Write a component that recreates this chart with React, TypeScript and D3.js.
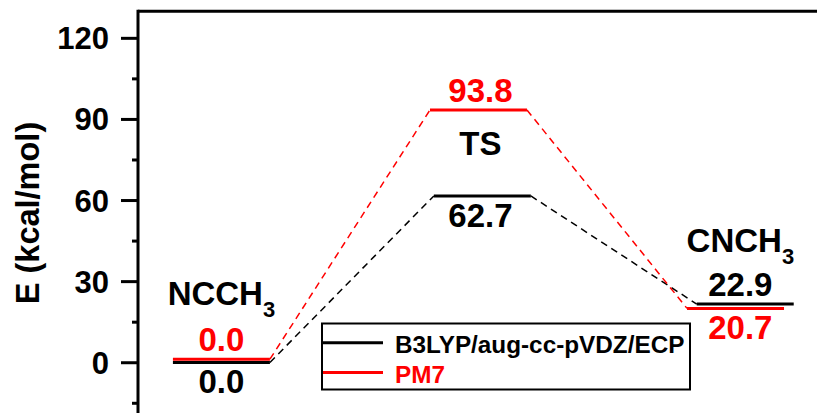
import React from 'react'
import * as d3 from 'd3'

// states along the reaction coordinate
const states = ['NCCH', 'TS', 'CNCH']
const stateSubs = ['3', '', '3']
// where the state names sit (energy units)
const stateLabelAt = [21.3, 76.8, 41]

// energies shown in labels (kcal/mol)
const b3lypLabels = ['0.0', '62.7', '22.9']
const pm7Labels = ['0.0', '93.8', '20.7']
// heights at which the level bars are drawn
const b3lypLevels = [0.1, 61.7, 21.7]
const pm7Levels = [1.3, 93.5, 20.1]
// left end of each level bar on the reaction coordinate (bars are 1 unit wide)
const b3lypStart = [0.36, 3.05, 5.76]
const pm7Start = [0.36, 3.01, 5.66]
// label placement: true = above the bar
const b3lypAbove = [false, false, true]
const pm7Above = [true, true, false]

const majorTicks = [0, 30, 60, 90, 120]
const minorTicks = [-15, 15, 45, 75, 105]

const legendNames = ['B3LYP/aug-cc-pVDZ/ECP', 'PM7']
const colors = ['#000000', '#ff0000']

const W = 817
const H = 413
const FONT = '"Liberation Sans", Arial, Helvetica, sans-serif'

const App: React.FC = () => {
  const x = d3.scaleLinear().domain([0, 7]).range([138, 817])
  const y = d3.scaleLinear().domain([-20, 130]).range([416.8, 11.3])

  const series = [
    { levels: b3lypLevels, start: b3lypStart, labels: b3lypLabels, above: b3lypAbove, color: colors[0] },
    { levels: pm7Levels, start: pm7Start, labels: pm7Labels, above: pm7Above, color: colors[1] },
  ]

  // centre of each state column
  const stateCenter = states.map((_, i) => x((b3lypStart[i] + pm7Start[i]) / 2 + 0.5))

  const line = d3.line<[number, number]>()
    .x(d => x(d[0]))
    .y(d => y(d[1]))

  return (
    <div style={{ position: 'fixed', left: 0, top: 0 }}>
      <svg width={W} height={H} style={{ display: 'block', background: '#fff' }} fontFamily={FONT} fontWeight="bold">
        {/* frame */}
        <line x1={x(0)} x2={W} y1={y(130)} y2={y(130)} stroke="#000" strokeWidth={3} />
        <line x1={x(0)} x2={x(0)} y1={y(130) - 1.5} y2={H} stroke="#000" strokeWidth={3} />

        {majorTicks.map(t => (
          <g key={'M' + t}>
            <line x1={x(0) - 17} x2={x(0)} y1={y(t)} y2={y(t)} stroke="#000" strokeWidth={3} />
            <text x={x(0) - 29} y={y(t) + 11} fontSize={31} textAnchor="end">{t}</text>
          </g>
        ))}
        {minorTicks.map(t => (
          <line key={'m' + t} x1={x(0) - 6} x2={x(0)} y1={y(t)} y2={y(t)} stroke="#000" strokeWidth={3} />
        ))}

        <text transform={`translate(39,213) rotate(-90)`} fontSize={32.5} textAnchor="middle">E (kcal/mol)</text>

        {/* dashed connectors */}
        {series.map((s, si) =>
          s.levels.slice(0, -1).map((v, i) => (
            <path
              key={`c${si}-${i}`}
              d={line([[s.start[i] + 1, v], [s.start[i + 1], s.levels[i + 1]]]) || ''}
              fill="none"
              stroke={s.color}
              strokeWidth={1.5}
              strokeDasharray="7,5"
            />
          ))
        )}

        {/* level bars */}
        {series.map((s, si) =>
          s.levels.map((v, i) => (
            <line
              key={`l${si}-${i}`}
              x1={x(s.start[i])}
              x2={x(s.start[i] + 1)}
              y1={y(v)}
              y2={y(v)}
              stroke={s.color}
              strokeWidth={3}
            />
          ))
        )}

        {/* energy labels */}
        {series.map((s, si) =>
          s.levels.map((v, i) => (
            <text
              key={`t${si}-${i}`}
              x={stateCenter[i]}
              y={y(v) + (s.above[i] ? -8 : 31)}
              fontSize={33}
              textAnchor="middle"
              fill={s.color}
            >
              {s.labels[i]}
            </text>
          ))
        )}

        {/* state names */}
        {states.map((name, i) => (
          <text key={name} x={stateCenter[i]} y={y(stateLabelAt[i])} fontSize={33} textAnchor="middle">
            {name}
            {stateSubs[i] && (
              <tspan fontSize={22} dy={12}>{stateSubs[i]}</tspan>
            )}
          </text>
        ))}

        {/* legend */}
        <g>
          <rect x={322} y={323.5} width={368} height={66} fill="#fff" stroke="#000" strokeWidth={2} />
          {legendNames.map((name, i) => (
            <g key={name} transform={`translate(323,${342.7 + i * 29.8})`}>
              <line x1={0} x2={60} y1={0} y2={0} stroke={colors[i]} strokeWidth={3} />
              <text x={72} y={10} fontSize={24.3} fill={colors[i]}>{name}</text>
            </g>
          ))}
        </g>
      </svg>
    </div>
  )
}

export default App
